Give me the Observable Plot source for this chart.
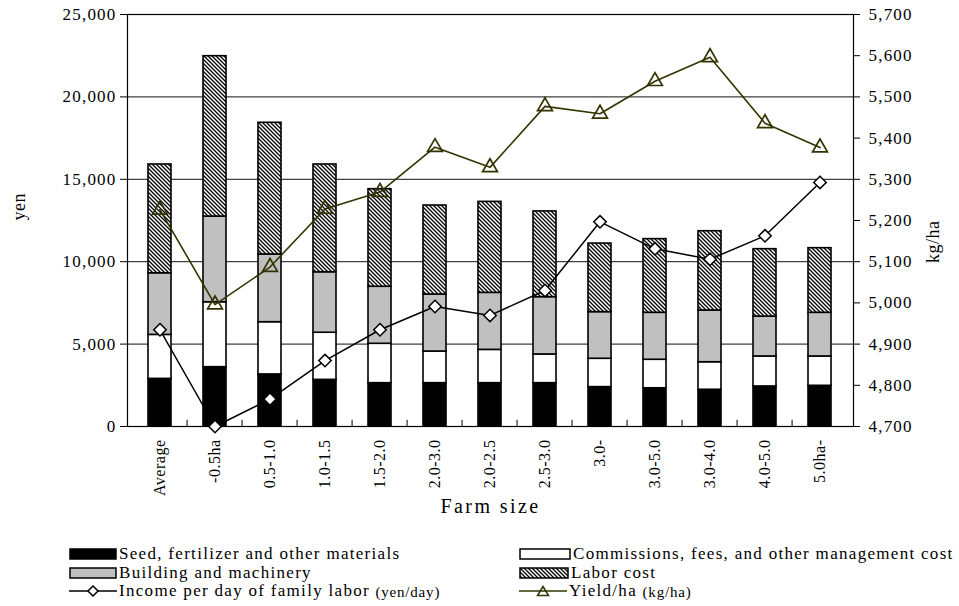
<!DOCTYPE html>
<html>
<head>
<meta charset="utf-8">
<script src="https://cdn.jsdelivr.net/npm/d3@7"></script>
<script src="https://cdn.jsdelivr.net/npm/@observablehq/plot@0.6"></script>
<style>
  html, body { margin: 0; padding: 0; background: white; }
  #wrap { position: relative; width: 959px; height: 606px; font-family: "Liberation Serif", serif; color: black; }
  #wrap svg text { letter-spacing: 1.2px; }
  #wrap svg g[aria-label="x-axis tick label"] { font-size: 16px; }
  #wrap svg g[aria-label="x-axis tick label"] text { letter-spacing: 0.5px; }
  .leg { position: absolute; display: flex; align-items: center; font-size: 17px; letter-spacing: 1.3px; white-space: nowrap; line-height: 19px; }
  .leg svg { display: block; margin-right: 2px; }
  .small { font-size: 15px; letter-spacing: 0.8px; position: relative; top: 2px; }
</style>
</head>
<body>
<div id="wrap"></div>
<script>
const sizes = ["Average","-0.5ha","0.5-1.0","1.0-1.5","1.5-2.0","2.0-3.0","2.0-2.5","2.5-3.0","3.0-","3.0-5.0","3.0-4.0","4.0-5.0","5.0ha-"];
const seed = [2890,3600,3160,2830,2630,2630,2630,2630,2390,2320,2230,2430,2470];
const commissions = [2670,3940,3170,2860,2390,1920,2020,1740,1720,1730,1670,1820,1780];
const building = [3740,5200,4110,3670,3460,3460,3460,3480,2830,2850,3140,2420,2650];
const labor = [6600,9730,7990,6540,5920,5400,5520,5200,4160,4470,4810,4090,3920];
const income = [5870,0,1660,4000,5870,7280,6740,8250,12420,10780,10150,11570,14810];
const yieldHa = [5226,4996,5087,5228,5269,5378,5329,5477,5459,5538,5596,5436,5377];

const costTypes = ["Seed, fertilizer and other materials","Commissions, fees, and other management cost","Building and machinery","Labor cost"];
const yenTicks = [0,5000,10000,15000,20000,25000];
const gridTicks = [5000,10000,15000,20000];
const yieldTicks = [4700,4800,4900,5000,5100,5200,5300,5400,5500,5600,5700];

// map yield (kg/ha) onto the yen scale: 4700..5700 -> 0..25000
const toYen = v => (v - 4700) * 25;
const fromYen = v => v / 25 + 4700;

const costSeries = [seed, commissions, building, labor];
const costTable = [];
sizes.forEach((s, i) => costTypes.forEach((t, k) => costTable.push({size: s, type: t, value: costSeries[k][i]})));
const incomeTable = sizes.map((s, i) => ({size: s, v: income[i]}));
const yieldTable = sizes.map((s, i) => ({size: s, v: toYen(yieldHa[i])}));

const W = 959, H = 535, mL = 127, mR = 106, mT = 14, mB = 109;
const step = (W - mL - mR) / sizes.length;
const olive = "#333300";

const plot = Plot.plot({
  width: W, height: H,
  marginLeft: mL, marginRight: mR, marginTop: mT, marginBottom: mB,
  style: {fontFamily: "'Liberation Serif', serif", fontSize: "17px", color: "black", background: "white", overflow: "visible"},
  x: {type: "band", domain: sizes, paddingInner: 0.58, paddingOuter: 0.29, axis: null},
  y: {domain: [0, 25000], axis: null},
  color: {domain: costTypes, range: ["black", "white", "#c0c0c0", "url(#hatch)"]},
  marks: [
    Plot.ruleY(gridTicks, {stroke: "#111", strokeWidth: 1}),
    Plot.barY(costTable, {x: "size", y: "value", fill: "type", stroke: "black", strokeWidth: 1.6}),
    Plot.ruleX(sizes.slice(1), {x: d => d, y1: 0, y2: 380, dx: -step / 2, stroke: "black"}),
    Plot.frame({stroke: "black", strokeWidth: 1.2}),
    Plot.line(incomeTable, {x: "size", y: "v", stroke: "black", strokeWidth: 1.5}),
    Plot.dot(incomeTable, {x: "size", y: "v", symbol: "diamond2", r: 5.6, fill: "white", stroke: "black", strokeWidth: 1.5}),
    Plot.line(yieldTable, {x: "size", y: "v", stroke: olive, strokeWidth: 1.6}),
    Plot.dot(yieldTable, {x: "size", y: "v", symbol: "triangle", r: 5.5, fill: "none", stroke: olive, strokeWidth: 1.7}),
    Plot.axisY({ticks: yenTicks, tickFormat: d3.format(","), tickSize: 7, tickPadding: 4, label: null}),
    Plot.axisY({anchor: "right", ticks: yieldTicks.map(toYen), tickFormat: d => d3.format(",")(fromYen(d)), tickSize: 6, tickPadding: 9, label: null}),
    Plot.axisX({tickRotate: -90, tickSize: 0, tickPadding: 13, label: null}),
    Plot.text(["yen"], {text: d => d, frameAnchor: "left", dx: -108, rotate: -90, fontSize: 18}),
    Plot.text(["kg/ha"], {text: d => d, frameAnchor: "right", dx: 80, rotate: -90, fontSize: 18}),
    Plot.text(["Farm size"], {text: d => d, frameAnchor: "bottom", dy: 86, fontSize: 20})
  ]
});

// hatch pattern definition for the labor cost fill
const ns = "http://www.w3.org/2000/svg";
function addHatch(svg, id) {
  const defs = document.createElementNS(ns, "defs");
  defs.innerHTML = `<pattern id="${id}" patternUnits="userSpaceOnUse" width="4" height="4">
    <rect width="4" height="4" fill="white"/>
    <path d="M-1,-1L5,5M-1,3L1,5M3,-1L5,1" stroke="black" stroke-width="1.3"/>
  </pattern>`;
  svg.insertBefore(defs, svg.firstChild);
}
addHatch(plot, "hatch");
plot.style.position = "absolute";
plot.style.left = "0px";
plot.style.top = "0px";
const wrap = document.getElementById("wrap");
wrap.appendChild(plot);
plot.querySelectorAll("text").forEach(t => {
  if (t.textContent === "Farm size") t.style.letterSpacing = "2.4px";
  if (t.textContent === "yen" || t.textContent === "kg/ha") t.style.letterSpacing = "0.5px";
});

// legend
function swatchRect(fill, w) {
  return `<svg width="${w}" height="12"><defs><pattern id="lh" patternUnits="userSpaceOnUse" width="4" height="4"><rect width="4" height="4" fill="white"/><path d="M-1,-1L5,5M-1,3L1,5M3,-1L5,1" stroke="black" stroke-width="1.3"/></pattern></defs><rect x="1" y="1" width="${w - 2}" height="10" fill="${fill}" stroke="black" stroke-width="1.5"/></svg>`;
}
function swatchLine(color, sym) {
  const shape = sym === "diamond"
    ? `<path d="M24,1L29,6L24,11L19,6Z" fill="white" stroke="${color}" stroke-width="1.5"/>`
    : `<path d="M24,1.5L29.5,10.5L18.5,10.5Z" fill="none" stroke="${color}" stroke-width="1.5"/>`;
  return `<svg width="48" height="12"><line x1="0" y1="6" x2="48" y2="6" stroke="${color}" stroke-width="1.5"/>${shape}</svg>`;
}
const legendItems = [
  {x: 69, y: 544, html: swatchRect("black", 48) + costTypes[0]},
  {x: 519, y: 544, html: swatchRect("white", 52) + costTypes[1]},
  {x: 69, y: 563, html: swatchRect("#c0c0c0", 48) + costTypes[2]},
  {x: 519, y: 563, html: swatchRect("url(#lh)", 50) + costTypes[3]},
  {x: 69, y: 581, html: swatchLine("black", "diamond") + "Income per day of family labor&nbsp;<span class='small'>(yen/day)</span>"},
  {x: 519, y: 581, html: swatchLine(olive, "triangle") + "Yield/ha&nbsp;<span class='small'>(kg/ha)</span>"}
];
legendItems.forEach(it => {
  const d = document.createElement("div");
  d.className = "leg";
  d.style.left = it.x + "px";
  d.style.top = it.y + "px";
  d.innerHTML = it.html;
  wrap.appendChild(d);
});
</script>
</body>
</html>
